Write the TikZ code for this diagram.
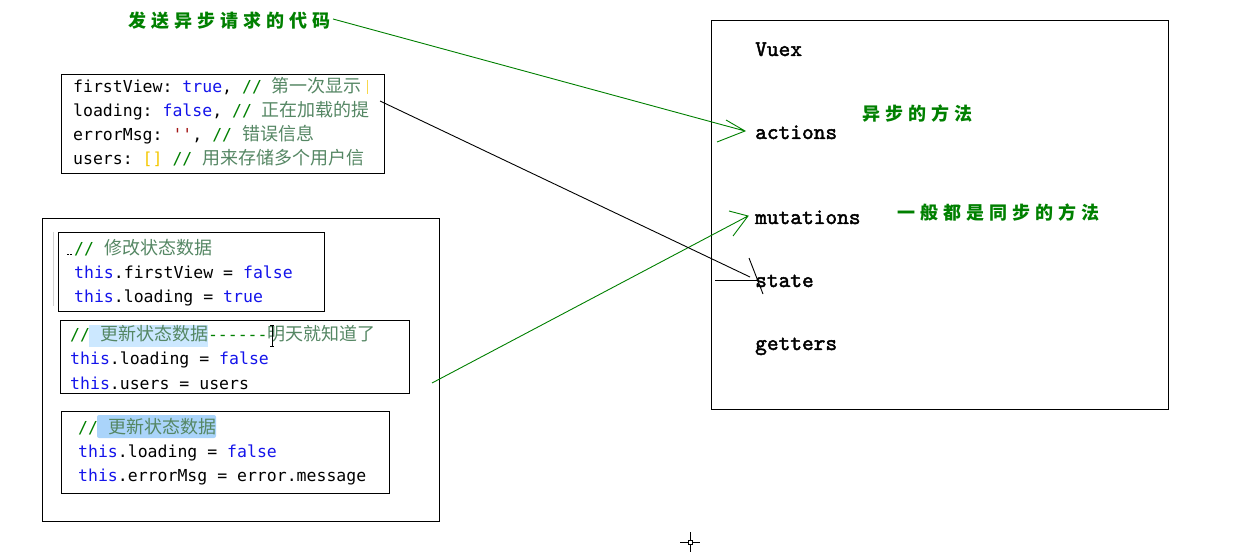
\documentclass[tikz,border=0pt]{standalone}
\usepackage{fontspec}
\setmonofont{DejaVu Sans Mono}
\newfontfamily\cjk{Noto Sans CJK SC}
\newfontfamily\vxfont[FakeBold=2]{lmmono10-regular.otf}
\definecolor{kw}{RGB}{20,20,235}
\definecolor{cmt}{RGB}{0,128,0}
\definecolor{zh}{RGB}{85,135,100}
\definecolor{str}{RGB}{163,21,21}
\definecolor{brk}{RGB}{245,200,0}
\definecolor{lbl}{RGB}{0,128,0}
\definecolor{hlone}{RGB}{204,232,255}
\definecolor{hltwo}{RGB}{170,212,250}
\def\spc#1{\ifx#1\relax\else#1\kern5pt\expandafter\spc\fi}
\newcommand\kw[1]{\textcolor{kw}{#1}}
\newcommand\cm[1]{\textcolor{cmt}{#1}}
\newcommand\zh[1]{{\cjk\fontsize{18}{18}\selectfont\color{zh}#1}}
\begin{document}
\begin{tikzpicture}[x=1pt,y=-1pt,
  code/.style={anchor=base west, inner sep=0pt, font=\ttfamily\fontsize{16.5}{18}\selectfont},
  vx/.style={anchor=base west, inner sep=0pt, font=\vxfont\fontsize{22.3}{22}\selectfont},
  lab/.style={anchor=base west, inner sep=0pt, text=lbl, font=\cjk\bfseries\fontsize{18}{18}\selectfont},
  box/.style={draw=black, line width=1pt},
  gline/.style={draw=lbl, line width=0.9pt},
  bline/.style={draw=black, line width=0.9pt}]
\useasboundingbox (0,0) rectangle (1235,553);
\fill[white] (0,0) rectangle (1235,553);

% ---- box 1 ----
\draw[box] (61.5,74.5) rectangle (384.5,173.5);
\begin{scope}
\clip (61,74) rectangle (369,173);
\node[code] (c11) at (73,93) {firstView: \kw{true}, \cm{//} \zh{第一次显示}};
\node[code] (c12) at (73,117) {loading: \kw{false}, \cm{//} \zh{正在加载的提}};
\node[code] (c13) at (73,141) {errorMsg: \textcolor{str}{''}, \cm{//} \zh{错误信息}};
\node[code] (c14) at (73,165) {users: \textcolor{brk}{[]} \cm{//} \zh{用来存储多个用户信}};
\end{scope}
\draw[brk!70, line width=1pt] (367,80) -- (367,94);

% ---- outer box ----
\draw[box] (42.5,218.5) rectangle (439.5,521.5);

% ---- box 2 ----
\draw[gray!35, line width=1pt] (53,232) -- (53,306);
\draw[box] (58.5,232.5) rectangle (324.5,311.5);
\draw[black, line width=0.8pt, dash pattern=on 2pt off 1pt] (67,254) -- (73,254);
\node[code] (c21) at (74,255) {\cm{//} \zh{修改状态数据}};
\node[code] (c22) at (74,279) {\kw{this}.firstView = \kw{false}};
\node[code] (c23) at (74,303) {\kw{this}.loading = \kw{true}};

% ---- box 3 ----
\draw[box] (60.5,320.5) rectangle (409.5,393.5);
\fill[hlone] (89,325) rectangle (208,347);
\node[code] (c31) at (70,341) {\cm{//} \zh{更新状态数据}\cm{------}\zh{明天就知道了}};
\draw[black, line width=0.8pt] (272,325) -- (272,346) (270,325) -- (274,325) (270,346) -- (274,346);
\node[code] (c32) at (70,365) {\kw{this}.loading = \kw{false}};
\node[code] (c33) at (70,389) {\kw{this}.users = users};

% ---- box 4 ----
\draw[box] (61.5,411.5) rectangle (389.5,493.5);
\fill[hltwo, rounded corners=2pt] (97,415) rectangle (216,438);
\node[code] (c41) at (78,433) {\cm{//} \zh{更新状态数据}};
\node[code] (c42) at (78,457) {\kw{this}.loading = \kw{false}};
\node[code] (c43) at (78,481) {\kw{this}.errorMsg = error.message};

% ---- Vuex box ----
\draw[box] (711.5,20.5) rectangle (1168.5,409.5);
\node[vx] (vuex) at (755,56) {Vuex};
\node[vx] (actions) at (755,139) {actions};
\node[vx] (mutations) at (755,224) {mutations};
\node[vx] (state) at (755,287) {state};
\node[vx] (getters) at (755,350) {getters};

% ---- green labels ----
\node[lab] (l1) at (128,28) {\spc 发送异步请求的代码\relax};
\node[lab] (l2) at (862,121) {\spc 异步的方法\relax};
\node[lab] (l3) at (897,220) {\spc 一般都是同步的方法\relax};

% ---- connectors ----
\coordinate (g1s) at (333,19);
\coordinate (g1t) at (745,131);
\coordinate (g1a) at (726,120);
\coordinate (g1b) at (717,142);
\draw[gline] (g1s) -- (g1t) (g1a) -- (g1t) -- (g1b);

\coordinate (g2s) at (432,383);
\coordinate (g2t) at (748,216);
\coordinate (g2a) at (729,211);
\coordinate (g2b) at (733,236);
\draw[gline] (g2s) -- (g2t) (g2a) -- (g2t) -- (g2b);

\coordinate (b1s) at (380,101);
\coordinate (b1t) at (750,277);
\coordinate (b1a) at (749,258);
\coordinate (b1b) at (763,294);
\coordinate (b1c) at (715,280.5);
\coordinate (b1d) at (758,280.5);
\draw[bline] (b1s) -- (b1t) (b1a) -- (b1b);
\draw[black, line width=1pt] (b1c) -- (b1d);

% ---- cursor ----
\coordinate (cur) at (690,542);
\draw[black, line width=0.9pt] (680,542) -- (687.5,542) (692.5,542) -- (700,542)
  (690,532) -- (690,539.5) (690,544.5) -- (690,552);
\draw[black, line width=0.9pt] (688,540) rectangle (692,544);
\end{tikzpicture}
\end{document}
